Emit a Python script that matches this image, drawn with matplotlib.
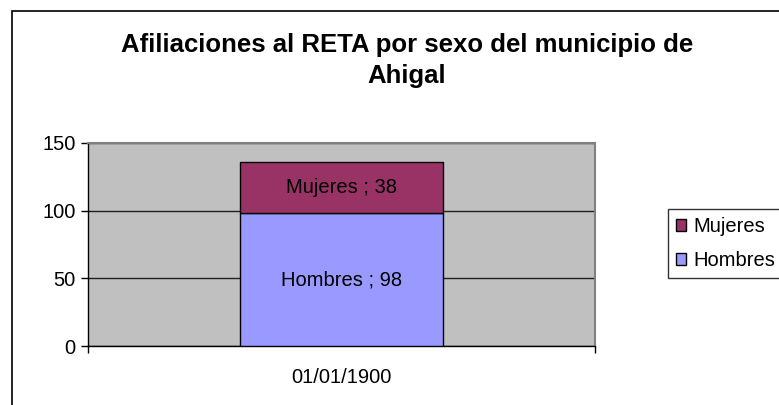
import matplotlib.pyplot as plt
from matplotlib.patches import Rectangle, Patch

plt.rcParams['font.family'] = ['Liberation Sans', 'DejaVu Sans']

categories = ['01/01/1900']
series = ['Hombres', 'Mujeres']
hombres = [98]
mujeres = [38]
colors = {'Hombres': '#9999FF', 'Mujeres': '#993366'}

fig = plt.figure(figsize=(7.79, 4.05), dpi=100)
W, H = 779, 405

# outer chart border (cut off at right and bottom like the reference)
fig.patches.append(Rectangle((12 / W, -0.1), 1.2, 1 - 11 / H + 0.1,
                             transform=fig.transFigure, fill=False,
                             edgecolor='black', linewidth=1.2))

ax = fig.add_axes([88 / W, 1 - 346 / H, (595 - 88) / W, (346 - 143) / H])
ax.set_facecolor('#C0C0C0')

x = list(range(len(categories)))
ax.bar(x, hombres, width=0.4, color=colors['Hombres'], edgecolor='black',
       linewidth=1, zorder=3)
ax.bar(x, mujeres, width=0.4, bottom=hombres, color=colors['Mujeres'],
       edgecolor='black', linewidth=1, zorder=3)

for i in x:
    ax.text(i, hombres[i] / 2, 'Hombres ; %d' % hombres[i], ha='center',
            va='center', fontsize=14.5, zorder=4)
    ax.text(i, hombres[i] + mujeres[i] / 2, 'Mujeres ; %d' % mujeres[i],
            ha='center', va='center', fontsize=14.5, zorder=4)

ax.set_xlim(-0.5, len(categories) - 0.5)
ax.set_ylim(0, 150)
ax.set_yticks([0, 50, 100, 150])
ax.yaxis.grid(True, color='#202020', linewidth=1, zorder=1)
ax.set_axisbelow(True)

ax.set_xticks([-0.5, 0.5])
ax.set_xticklabels([])
ax.set_xticks(x, minor=True)
ax.set_xticklabels(categories, minor=True)
ax.tick_params(axis='x', which='major', length=5, width=1, direction='out')
ax.tick_params(axis='x', which='minor', length=0, pad=16, labelsize=14.5)
ax.tick_params(axis='y', length=5, width=1, direction='out', labelsize=14.5,
               pad=4)

for s in ['top', 'right']:
    ax.spines[s].set_color('#808080')
    ax.spines[s].set_linewidth(1.5)
for s in ['left', 'bottom']:
    ax.spines[s].set_color('black')
    ax.spines[s].set_linewidth(1)

fig.text(407 / W, 1 - 45 / H, 'Afiliaciones al RETA por sexo del municipio de',
         ha='center', va='center', fontsize=18.5, fontweight='bold')
fig.text(407 / W, 1 - 76 / H, 'Ahigal', ha='center', va='center',
         fontsize=18.5, fontweight='bold')

handles = [Patch(facecolor=colors['Mujeres'], edgecolor='black', label='Mujeres'),
           Patch(facecolor=colors['Hombres'], edgecolor='black', label='Hombres')]
leg = fig.legend(handles=handles, loc='upper left',
                 bbox_to_anchor=(668 / W, 1 - 209 / H), frameon=True,
                 fancybox=False, edgecolor='black', fontsize=14.5,
                 handlelength=0.5, handleheight=0.5, handletextpad=0.35,
                 borderpad=0.4, labelspacing=0.75, borderaxespad=0)
leg.get_frame().set_linewidth(1)

fig.savefig('out.png', dpi=100)
